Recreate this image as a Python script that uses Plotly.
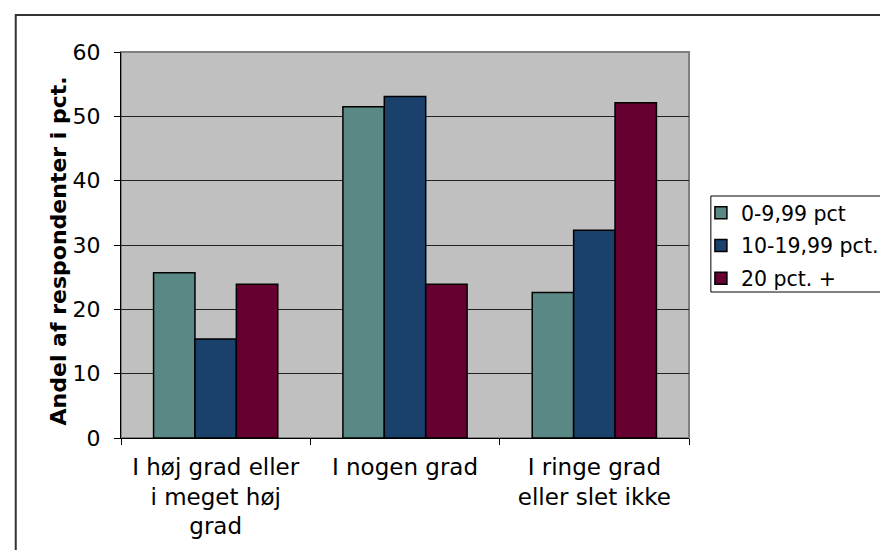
import plotly.graph_objects as go

categories = ["I høj grad eller<br>i meget høj<br>grad", "I nogen grad", "I ringe grad<br>eller slet ikke"]
series_names = ["0-9,99 pct", "10-19,99 pct.", "20 pct. +"]
values_0_10 = [25.7, 51.5, 22.6]
values_10_20 = [15.4, 53.1, 32.3]
values_20_plus = [23.9, 23.9, 52.1]
colors = ["#5A8884", "#1A406C", "#660030"]
y_ticks = [0, 10, 20, 30, 40, 50, 60]

FONT = "DejaVu Sans, Verdana, sans-serif"

fig = go.Figure()
for i, (name, vals, col) in enumerate(zip(series_names, [values_0_10, values_10_20, values_20_plus], colors)):
    fig.add_trace(go.Bar(
        x=categories, y=vals, name=name, legendgroup=f"g{i}",
        marker=dict(color=col, line=dict(color="black", width=1.5)),
        hoverinfo="skip",
    ))

L, R, T, B = 113, 685, 44, 430
W, H = 888, 550
pw, ph = R - L, B - T

def px_x(x):
    return (x - L) / pw

def px_y(y):
    return (B - y) / ph

fig.update_layout(
    width=W, height=H,
    margin=dict(l=L, r=W - R, t=T, b=H - B, pad=0),
    paper_bgcolor="white",
    plot_bgcolor="#C0C0C0",
    barmode="group",
    bargap=0.344,
    bargroupgap=0,
    font=dict(family=FONT, size=20, color="black"),
    showlegend=True,
    legend=dict(
        x=px_x(697), xanchor="left",
        y=px_y(185), yanchor="top",
        bgcolor="rgba(0,0,0,0)",
        borderwidth=0,
        traceorder="grouped",
        tracegroupgap=3,
        font=dict(family=FONT, size=20.5, color="black"),
        itemclick=False, itemdoubleclick=False,
    ),
    xaxis=dict(
        showline=True, linecolor="black", linewidth=1,
        ticks="outside", tickson="boundaries", ticklen=6, tickcolor="black",
        showgrid=False, tickfont=dict(family=FONT, size=23, color="black"),
        ticklabelstandoff=8,
        fixedrange=True,
    ),
    yaxis=dict(
        range=[0, 60], tickvals=y_ticks,
        showline=True, linecolor="black", linewidth=1,
        ticks="outside", ticklen=6, tickcolor="black",
        showgrid=True, gridcolor="#222222", gridwidth=1,
        zeroline=False,
        tickfont=dict(family=FONT, size=22, color="black"),
        ticklabelstandoff=9,
        fixedrange=True,
    ),
    shapes=[
        # plot area border (gray)
        dict(type="rect", xref="paper", yref="paper", x0=0, x1=1, y0=0, y1=1,
             line=dict(color="#808080", width=2), layer="below"),
        # outer chart border
        dict(type="rect", xref="paper", yref="paper",
             x0=px_x(7), x1=px_x(W + 20), y0=px_y(H + 20), y1=px_y(7),
             line=dict(color="#333333", width=2), fillcolor="rgba(0,0,0,0)"),
        # legend box
        dict(type="rect", xref="paper", yref="paper",
             x0=px_x(707), x1=px_x(886), y0=px_y(284), y1=px_y(188),
             line=dict(color="black", width=1), fillcolor="white"),
    ],
    annotations=[
        dict(text="<b>Andel af respondenter i pct.</b>", textangle=-90,
             xref="paper", yref="paper", x=px_x(50), y=px_y(243),
             xanchor="center", yanchor="middle", showarrow=False,
             font=dict(family=FONT, size=22, color="black")),
    ],
)

fig.write_html("out.html")
